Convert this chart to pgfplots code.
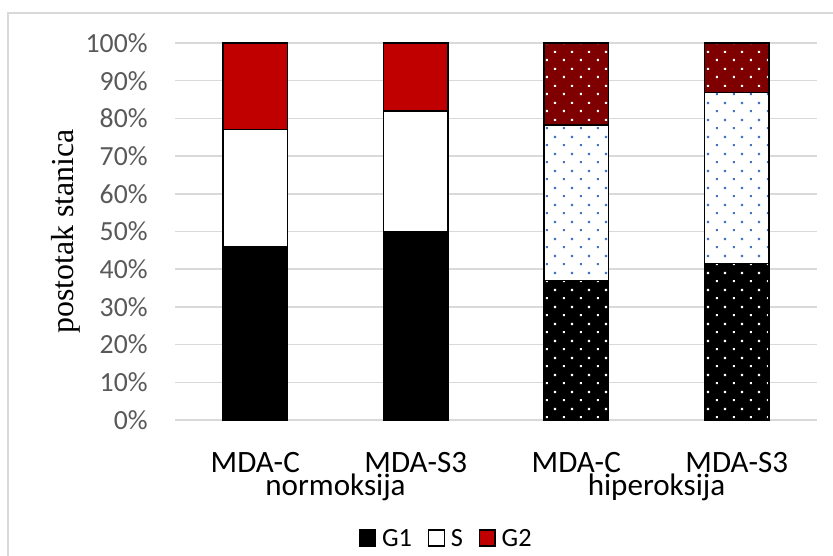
\documentclass[border=0pt]{standalone}
\usepackage{fontspec}
\setmainfont{Carlito}
\newfontfamily\timesfont{Liberation Serif}
\usepackage{pgfplots}
\pgfplotsset{compat=1.18}
\usetikzlibrary{patterns.meta}
\definecolor{gridc}{HTML}{D9D9D9}
\definecolor{ticc}{HTML}{595959}
\definecolor{redA}{HTML}{C00000}
\definecolor{redB}{HTML}{7F0000}
\definecolor{blueD}{HTML}{4472C4}
\tikzdeclarepattern{
  name=xldots,
  type=uncolored,
  bounding box={(0bp,0bp) and (8.5bp,8.5bp)},
  tile size={(8.5bp,8.5bp)},
  code={
    \fill (1bp,1bp) rectangle ++(1.1bp,1.1bp);
    \fill (5.25bp,5.25bp) rectangle ++(1.1bp,1.1bp);
  }
}
\begin{document}
\begin{tikzpicture}
\useasboundingbox (0,0) rectangle (416.5bp,278bp);
\begin{scope}
\clip (0,0) rectangle (416.5bp,278bp);
\draw[gridc, line width=0.75bp] (4bp,-10bp) -- (4bp,271.5bp) -- (430bp,271.5bp);
\end{scope}
\begin{axis}[
  at={(87.5bp,68bp)}, anchor=south west,
  scale only axis, width=321bp, height=188.5bp,
  xmin=-0.5, xmax=3.5, ymin=0, ymax=100,
  clip=false,
  ybar stacked, bar width=0.404,
  xtick={0,1,2,3}, xticklabels={MDA-C,MDA-S3,MDA-C,MDA-S3},
  ytick={0,10,...,100},
  yticklabels={0\%,10\%,20\%,30\%,40\%,50\%,60\%,70\%,80\%,90\%,100\%},
  ymajorgrids, grid style={gridc, line width=0.75bp},
  axis line style={draw=none}, major tick length=0pt,
  yticklabel style={anchor=east, inner sep=0pt, xshift=-13.5bp, text=ticc, font=\fontsize{13.9}{16}\selectfont},
  xticklabel style={anchor=base, inner sep=0pt, yshift=-26.2bp, text=black, font=\fontsize{15.6}{18}\selectfont},
  ylabel={postotak stanica},
  ylabel style={at={(axis description cs:-0.17,0.5)}, anchor=center, font=\timesfont\fontsize{16}{19}\selectfont},
  legend columns=3,
  legend style={draw=none, fill=none, at={(axis description cs:0.422,-0.316)}, anchor=center,
    font=\fontsize{13.2}{15}\selectfont, inner sep=0pt,
    nodes={inner sep=0.5pt},
    /tikz/every odd column/.append style={column sep=2.5bp},
    /tikz/every even column/.append style={column sep=7.5bp}},
  legend image code/.code={\draw[#1, line width=0.6bp] (0bp,-3.4bp) rectangle (7.8bp,4.6bp);},
  every axis plot/.append style={draw=black, line width=0.75bp},
]
% G1
\addplot[fill=black] coordinates {(0,46) (1,50) (2,0) (3,0)};
\addlegendentry{G1}
\addplot[fill=black, postaction={pattern=xldots, pattern color=white}, forget plot] coordinates {(0,0) (1,0) (2,37) (3,41.5)};
% S
\addplot[fill=white] coordinates {(0,31) (1,32) (2,0) (3,0)};
\addlegendentry{S}
\addplot[fill=white, postaction={pattern=xldots, pattern color=blueD}, forget plot] coordinates {(0,0) (1,0) (2,41.3) (3,45.4)};
% G2
\addplot[fill=redA] coordinates {(0,23) (1,18) (2,0) (3,0)};
\addlegendentry{G2}
\addplot[fill=redB, postaction={pattern=xldots, pattern color=white}, forget plot] coordinates {(0,0) (1,0) (2,21.7) (3,13.1)};
\node[anchor=base, inner sep=0pt, font=\fontsize{15.6}{18}\selectfont] at (axis cs:0.5,0) [yshift=-37.6bp] {normoksija};
\node[anchor=base, inner sep=0pt, font=\fontsize{15.6}{18}\selectfont] at (axis cs:2.5,0) [yshift=-37.6bp] {hiperoksija};
\end{axis}
\end{tikzpicture}
\end{document}
